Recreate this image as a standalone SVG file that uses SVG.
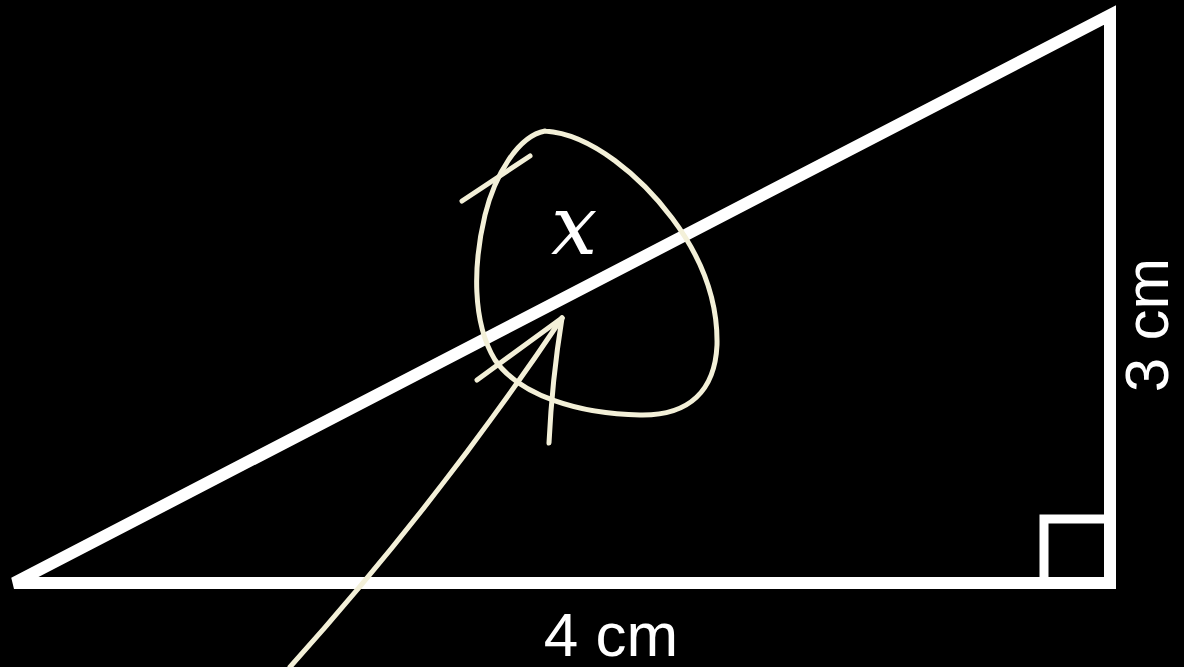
<svg xmlns="http://www.w3.org/2000/svg" width="1184" height="667" viewBox="0 0 1184 667">
  <style>
    .tri { fill: none; stroke: #ffffff; stroke-width: 12; stroke-linejoin: miter; stroke-linecap: square; }
    .sq { fill: none; stroke: #ffffff; stroke-width: 9; }
    .ink { fill: none; stroke: #f3f0d8; stroke-width: 5; stroke-linecap: round; stroke-linejoin: round; }
    .lbl { font-family: "Liberation Sans", Arial, sans-serif; font-size: 62px; fill: #ffffff; }
    .var { font-family: "DejaVu Serif", "Liberation Serif", serif; font-style: italic; font-size: 82px; fill: #ffffff; }
  </style>
  <rect width="1184" height="667" fill="#000000"/>
  <g id="triangle">
    <polygon class="tri" points="14,583 1110,583 1110,15"/>
    <polyline class="sq" points="1044,583 1044,519 1110,519"/>
  </g>
  <g id="labels">
    <text class="lbl" x="611" y="656" text-anchor="middle">4 cm</text>
    <text class="lbl" transform="translate(1168,325) rotate(-90)" text-anchor="middle">3 cm</text>
    <text class="var" x="574" y="254" text-anchor="middle">x</text>
  </g>
  <g id="connectors">
    <path class="ink" d="M545,131 C518,136 495,175 485,215 C473,265 472,322 495,360 C520,396 580,414 640,415 C690,416 715,390 717,345 C718,300 702,258 672,218 C642,178 592,134 545,131"/>
    <path class="ink" d="M462,201 L530,156"/>
    <path class="ink" d="M290,667 Q440,500 562,318"/>
    <path class="ink" d="M562,318 L477,380"/>
    <path class="ink" d="M562,318 Q552,380 549,443"/>
  </g>
</svg>
